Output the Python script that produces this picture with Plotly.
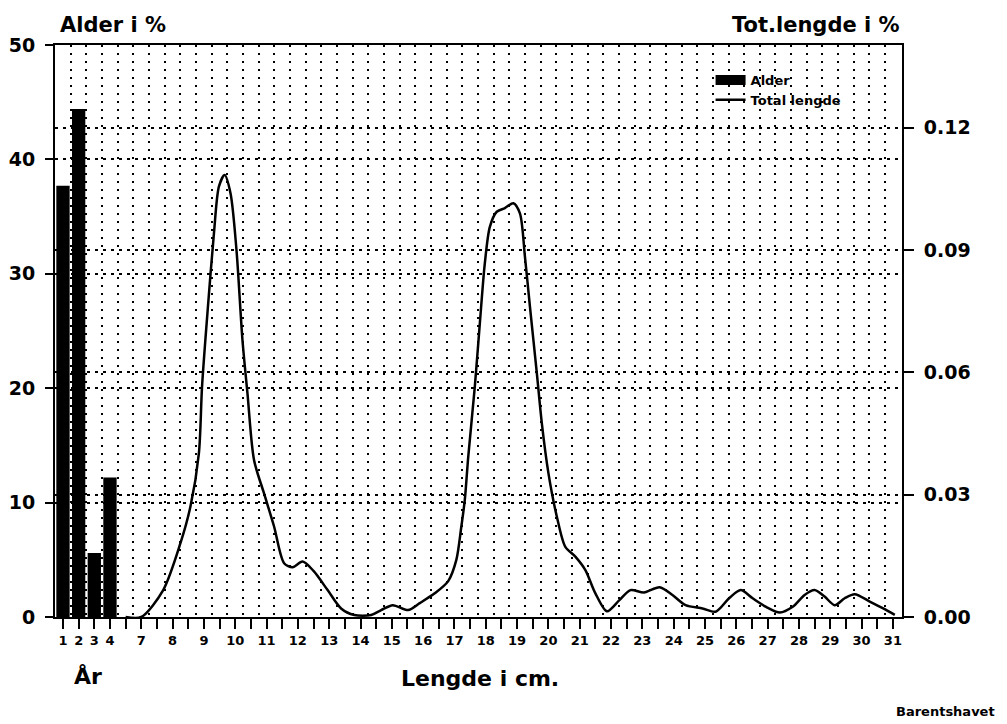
import numpy as np
import plotly.graph_objects as go

# ---- data ----
ages = [1, 2, 3, 4]
age_pct = [37.7, 44.4, 5.6, 12.2]

length_cm = [6.5, 7.0, 7.7, 8.25, 8.57, 8.84, 8.94, 9.12, 9.32, 9.48, 9.66, 9.85,
             10.04, 10.23, 10.39, 10.6, 10.92, 11.24, 11.56, 11.83, 12.15, 12.5,
             12.95, 13.38, 13.8, 14.34, 14.66, 15.03, 15.52, 15.89, 16.37, 16.8,
             17.06, 17.22, 17.33, 17.44, 17.65, 17.81, 17.97, 18.13, 18.35, 18.61,
             18.88, 19.09, 19.25, 19.41, 19.63, 19.79, 20.0, 20.27, 20.54, 20.86,
             21.18, 21.5, 21.87, 22.25, 22.62, 23.05, 23.55, 23.96, 24.38, 24.92,
             25.34, 25.77, 26.14, 26.52, 26.95, 27.39, 27.8, 28.18, 28.5, 28.82,
             29.14, 29.46, 29.78, 30.26, 30.69, 31.06]
length_frac = [0.0, 0.0, 0.0066, 0.0181, 0.0271, 0.0402, 0.0565, 0.0753, 0.0941,
               0.1056, 0.1084, 0.1039, 0.090, 0.068, 0.0549, 0.0385, 0.0303, 0.0222,
               0.0132, 0.0122, 0.0136, 0.0113, 0.0066, 0.0021, 0.0005, 0.0005,
               0.0017, 0.0029, 0.0017, 0.0034, 0.0058, 0.0088, 0.014, 0.0222,
               0.0287, 0.0393, 0.0565, 0.072, 0.0868, 0.0957, 0.0994, 0.1003,
               0.1015, 0.099, 0.0884, 0.0761, 0.0598, 0.0475, 0.0353, 0.0246,
               0.0172, 0.0148, 0.0115, 0.0058, 0.0014, 0.004, 0.0066, 0.006,
               0.0073, 0.0054, 0.0029, 0.0021, 0.0013, 0.0046, 0.0066, 0.0046,
               0.0025, 0.0011, 0.0025, 0.0054, 0.0066, 0.005, 0.0029, 0.0046,
               0.0056, 0.0038, 0.0021, 0.0005]

# tick layout of the shared bottom axis (ages 1-4 then length 7-31 cm)
tick_pos = list(np.arange(4.5, 31.01, 0.5))
tick_txt = []
for i, v in enumerate(tick_pos):
    if i < 4:
        tick_txt.append(str(ages[i]))
    elif v >= 7 and abs(v - round(v)) < 1e-9:
        tick_txt.append(str(int(round(v))))
    else:
        tick_txt.append("")
grid_pos = list(np.arange(4.75, 30.8, 0.5))

left_ticks = [0, 10, 20, 30, 40, 50]
right_ticks = [0.0, 0.03, 0.06, 0.09, 0.12]

X0, X1 = 4.245, 31.29
Y2MAX = 0.1403

FONT = "DejaVu Sans"
GRID = dict(showgrid=True, gridcolor="black", gridwidth=2, griddash="3px,5px")

fig = go.Figure()
# legend key for the age bars (wide black block, as in the original legend)
fig.add_trace(go.Scatter(x=[None], y=[None], mode="lines", name="Alder",
                         line=dict(color="black", width=14), xaxis="x", yaxis="y",
                         hoverinfo="skip"))
# length curve on main subplot (x, y) ; y = right-hand fraction axis
fig.add_trace(go.Scatter(x=length_cm, y=length_frac, mode="lines", name="Total lengde",
                         line=dict(color="black", width=2.5, shape="spline", smoothing=0.8),
                         xaxis="x", yaxis="y"))
# age bars on overlay subplot (x2, y2) ; y2 = left-hand percent axis
fig.add_trace(go.Bar(x=ages, y=age_pct, width=0.85, name="Alder", showlegend=False,
                     marker=dict(color="black", line=dict(width=0)),
                     xaxis="x2", yaxis="y2"))

# the page body adds an 8px offset, so the figure is 8px smaller
fig.update_layout(
    width=999, height=716,
    margin=dict(l=47, r=105, t=37, b=107, autoexpand=False),
    paper_bgcolor="white", plot_bgcolor="white",
    font=dict(family=FONT, color="black", weight="bold"),
    showlegend=True,
    legend=dict(x=0.774, y=0.965, xanchor="left", yanchor="top", traceorder="normal",
                bgcolor="rgba(0,0,0,0)", font=dict(size=13, family=FONT, weight="bold"),
                itemwidth=30),
    xaxis=dict(range=[X0, X1], tickmode="array", tickvals=tick_pos, ticktext=tick_txt,
               ticks="outside", ticklen=10, tickwidth=2, tickcolor="black",
               tickfont=dict(size=13, family=FONT, weight="bold"),
               showline=True, linecolor="black", linewidth=2, mirror=True,
               showgrid=False, zeroline=False, automargin=False,
               minor=dict(tickmode="array", tickvals=grid_pos, showgrid=True,
                          gridcolor="black", gridwidth=2, griddash="2px,6px", ticks="")),
    xaxis2=dict(range=[2 * X0 - 8, 2 * X1 - 8], overlaying="x", anchor="y2",
                visible=False, automargin=False),
    yaxis=dict(range=[0, Y2MAX], side="right", tickmode="array",
               tickvals=right_ticks, ticktext=["%.2f" % t for t in right_ticks],
               ticks="outside", ticklen=10, tickwidth=2, tickcolor="black",
               tickfont=dict(size=19, family=FONT, weight="bold"),
               ticklabelstandoff=6, automargin=False,
               showline=True, linecolor="black", linewidth=2,
               zeroline=False, **GRID),
    yaxis2=dict(range=[0, 50], overlaying="y", side="left", anchor="x",
                tickmode="array", tickvals=left_ticks,
                ticks="outside", ticklen=8, tickwidth=2, tickcolor="black",
                tickfont=dict(size=19, family=FONT, weight="bold"),
                ticklabelstandoff=6, automargin=False,
                showline=True, linecolor="black", linewidth=2,
                zeroline=False, **GRID),
)

ann_font = lambda s: dict(size=s, family=FONT, color="black", weight="bold")
fig.add_annotation(text="Alder i %", xref="paper", yref="paper", x=0.004, y=1.035,
                   xanchor="left", yanchor="middle", showarrow=False, font=ann_font(21))
fig.add_annotation(text="Tot.lengde i %", xref="paper", yref="paper", x=1.0, y=1.035,
                   xanchor="right", yanchor="middle", showarrow=False, font=ann_font(21))
fig.add_annotation(text="Lengde i cm.", xref="paper", yref="paper", x=0.502, y=-0.107,
                   xanchor="center", yanchor="middle", showarrow=False, font=ann_font(22))
fig.add_annotation(text="År", xref="paper", yref="paper", x=0.039, y=-0.104,
                   xanchor="center", yanchor="middle", showarrow=False, font=ann_font(22))
fig.add_annotation(text="Barentshavet", xref="paper", yref="paper", x=1.112, y=-0.166,
                   xanchor="right", yanchor="middle", showarrow=False, font=ann_font(13))

fig.write_html("out.html")
